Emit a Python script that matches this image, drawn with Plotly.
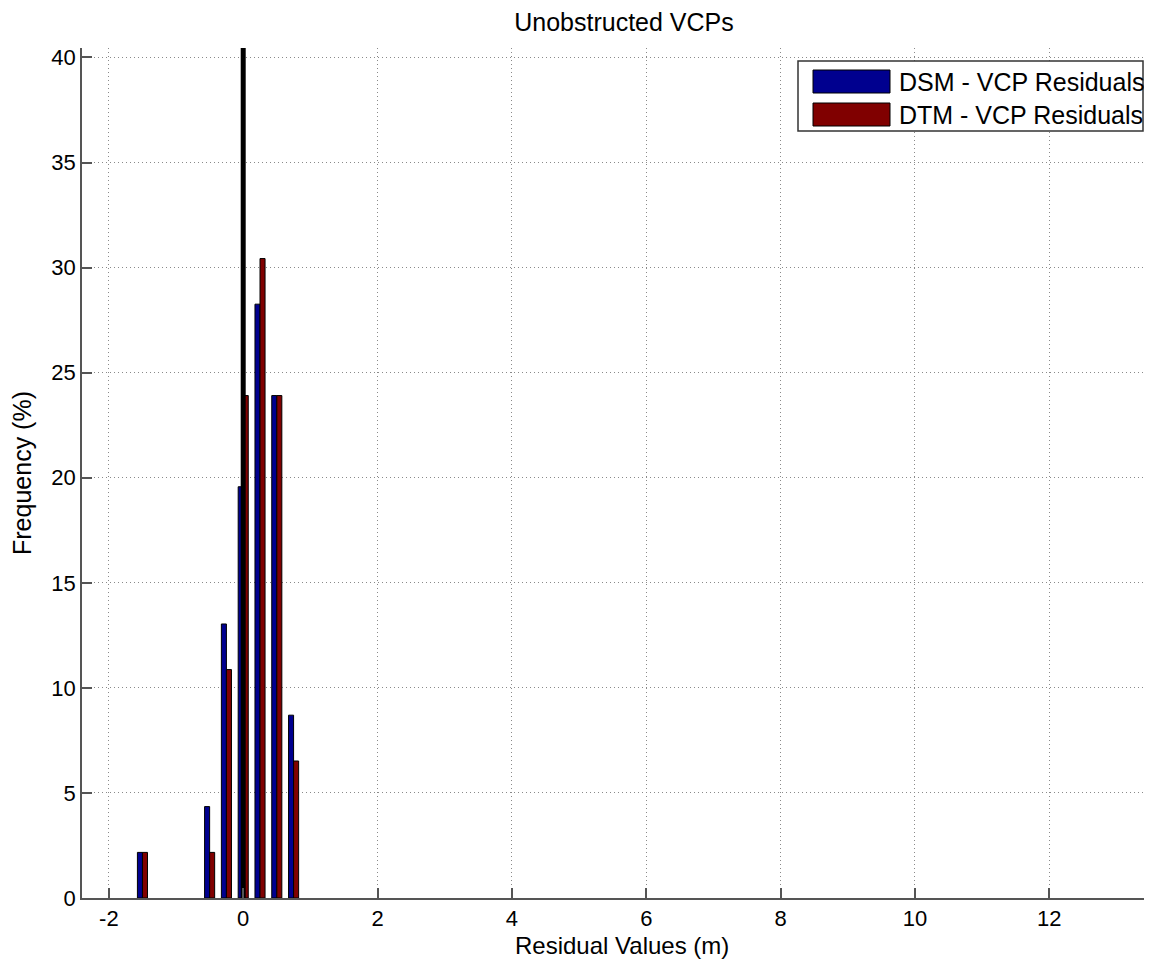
import plotly.graph_objects as go

# ---- data (percent of 46 VCPs per 0.25 m bin) ----
bin_centers = [-1.5, -0.5, -0.25, 0.0, 0.25, 0.5, 0.75]
dsm_freq = [2.17, 4.35, 13.04, 19.57, 28.26, 23.91, 8.70]
dtm_freq = [2.17, 2.17, 10.87, 23.91, 30.43, 23.91, 6.52]
series_names = ["DSM - VCP Residuals", "DTM - VCP Residuals"]
zero_line_x = [0.0, 0.0]
zero_line_y = [0.0, 40.45]
x_ticks = [-2, 0, 2, 4, 6, 8, 10, 12]
x_tick_labels = ["-2", "0", "2", "4", "6", "8", "10", "12"]
y_ticks = [0, 5, 10, 15, 20, 25, 30, 35, 40]

BLUE = "#00008F"
RED = "#800000"
FONT = "Liberation Sans, Arial, Helvetica, sans-serif"

# page body has an 8px margin; size the figure so it fits without scrolling
OFF = 8
W, H = 1136, 952
L, R, T, B = 82 - OFF, 0, 48 - OFF, 62

fig = go.Figure()
fig.add_trace(go.Bar(x=bin_centers, y=dsm_freq, name=series_names[0],
                     marker=dict(color=BLUE, line=dict(color="black", width=1))))
fig.add_trace(go.Bar(x=bin_centers, y=dtm_freq, name=series_names[1],
                     marker=dict(color=RED, line=dict(color="black", width=1))))
fig.add_trace(go.Scatter(x=zero_line_x, y=zero_line_y, mode="lines",
                         line=dict(color="black", width=5), showlegend=False,
                         hoverinfo="skip"))

axis_common = dict(
    showgrid=True, gridcolor="#8A8A8A", griddash="1px,3px", gridwidth=1,
    showline=True, linecolor="#555555", linewidth=1.5,
    ticks="inside", ticklen=10, tickcolor="#555555", tickwidth=1.5,
    tickfont=dict(size=22, color="black", family=FONT),
    zeroline=False, mirror=False,
)

pw, ph = W - L - R, H - T - B
def px(xs):
    return (xs - OFF - L) / pw
def py(ys):
    return (H - B - (ys - OFF)) / ph

fig.update_layout(
    width=W, height=H,
    margin=dict(l=L, r=R, t=T, b=B, autoexpand=False),
    paper_bgcolor="white", plot_bgcolor="white",
    barmode="group", bargap=0.4, bargroupgap=0,
    showlegend=False,
    font=dict(family=FONT, color="black"),
    title=dict(text="Unobstructed VCPs", x=px(624), xref="paper", xanchor="center",
               y=1 - (22 - OFF) / H, yref="container", yanchor="middle",
               font=dict(size=25, family=FONT, color="black")),
    xaxis=dict(range=[-2.40, 13.41], tickvals=x_ticks, ticktext=x_tick_labels,
               **axis_common),
    yaxis=dict(range=[0, 40.45], tickvals=y_ticks,
               title=dict(text="Frequency (%)", font=dict(size=25), standoff=14),
               **axis_common),
)

# x-axis label (centred on the original, wider axes)
fig.add_annotation(text="Residual Values (m)", xref="paper", yref="paper",
                   x=px(622), y=py(946), xanchor="center", yanchor="middle",
                   showarrow=False, font=dict(size=24, family=FONT, color="black"))

# ---- MATLAB-style legend box (drawn in paper coordinates) ----
shapes = [
    dict(type="rect", xref="paper", yref="paper",
         x0=px(798), x1=px(1143), y0=py(131), y1=py(61),
         line=dict(color="#333333", width=1.5), fillcolor="white", layer="above"),
    dict(type="rect", xref="paper", yref="paper",
         x0=px(813), x1=px(890), y0=py(93), y1=py(70),
         line=dict(color="black", width=1), fillcolor=BLUE, layer="above"),
    dict(type="rect", xref="paper", yref="paper",
         x0=px(813), x1=px(890), y0=py(126), y1=py(103),
         line=dict(color="black", width=1), fillcolor=RED, layer="above"),
]
fig.update_layout(shapes=shapes)
for name, yc in zip(series_names, [81.5, 114.5]):
    fig.add_annotation(text=name, xref="paper", yref="paper",
                       x=px(897), y=py(yc), xanchor="left", yanchor="middle",
                       showarrow=False, font=dict(size=25, family=FONT, color="black"))

fig.write_html("out.html")
